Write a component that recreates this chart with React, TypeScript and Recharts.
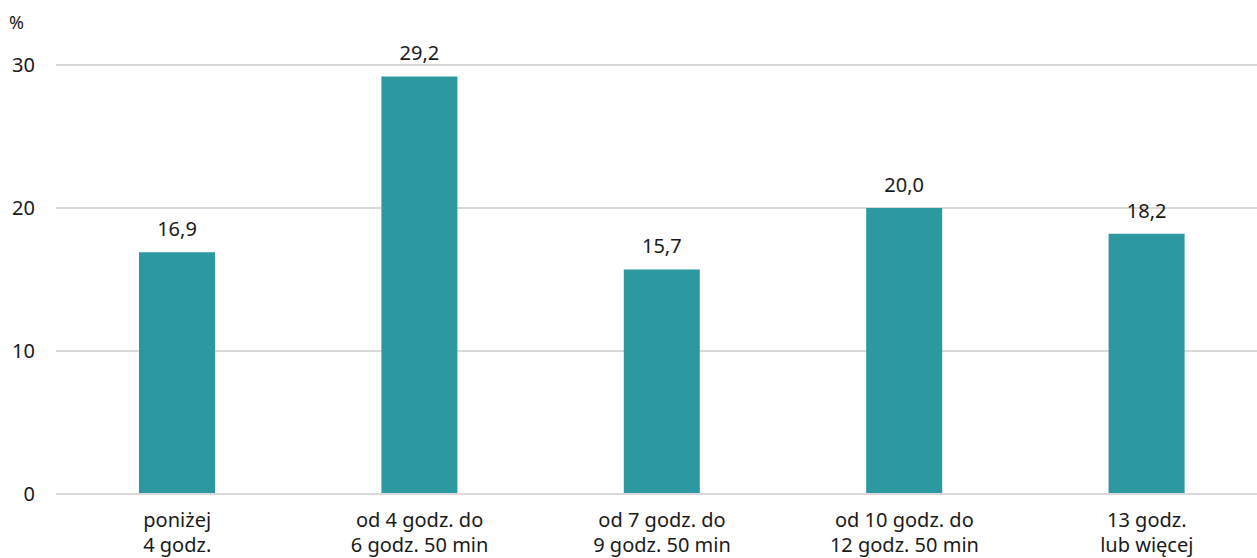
import React from 'react';
import { BarChart, Bar, XAxis, YAxis, CartesianGrid, LabelList } from 'recharts';

const categories = [
  ['poniżej', '4 godz.'],
  ['od 4 godz. do', '6 godz. 50 min'],
  ['od 7 godz. do', '9 godz. 50 min'],
  ['od 10 godz. do', '12 godz. 50 min'],
  ['13 godz.', 'lub więcej'],
];
const values = [16.9, 29.2, 15.7, 20.0, 18.2];
const yTicks = [0, 10, 20, 30];

const data = categories.map((c, i) => ({ name: c.join('\n'), value: values[i] }));

const FONT = '"Noto Sans", sans-serif';
const FS = 20;

const CategoryTick = (props: any) => {
  const { x, y, payload } = props;
  const lines = String(payload.value).split('\n');
  return (
    <text x={x} y={y} textAnchor="middle" fill="#1a1a1a" fontSize={FS} fontFamily={FONT}>
      {lines.map((l, i) => (
        <tspan key={i} x={x} dy={i === 0 ? 25 : 25}>{l}</tspan>
      ))}
    </text>
  );
};

export default function App() {
  return (
    <div style={{ position: 'absolute', left: 0, top: 0, width: 1257, height: 558, overflow: 'hidden', background: '#fff', fontFamily: FONT }}>
      <div style={{ position: 'absolute', left: 9, top: 10, fontSize: 18, color: '#1a1a1a' }}>%</div>
      <BarChart width={1268} height={558} data={data} margin={{ top: 65, right: 0, bottom: 0, left: 0 }} barCategoryGap={0}>
        <CartesianGrid vertical={false} stroke="#d9d9d9" strokeWidth={2} />
        <XAxis dataKey="name" axisLine={{ stroke: '#d9d9d9', strokeWidth: 2 }} tickLine={false} tick={<CategoryTick />} interval={0} height={64} />
        <YAxis domain={[0, 30]} ticks={yTicks} width={56} axisLine={false} tickLine={false} tickSize={0} tickMargin={21}
          tick={{ fill: '#1a1a1a', fontSize: FS, fontFamily: FONT }} />
        <Bar dataKey="value" fill="#2c98a0" barSize={76} isAnimationActive={false}>
          <LabelList dataKey="value" position="top" offset={16} fill="#1a1a1a" fontSize={FS} fontFamily={FONT}
            formatter={(v: any) => Number(v).toFixed(1).replace('.', ',')} />
        </Bar>
      </BarChart>
    </div>
  );
}
